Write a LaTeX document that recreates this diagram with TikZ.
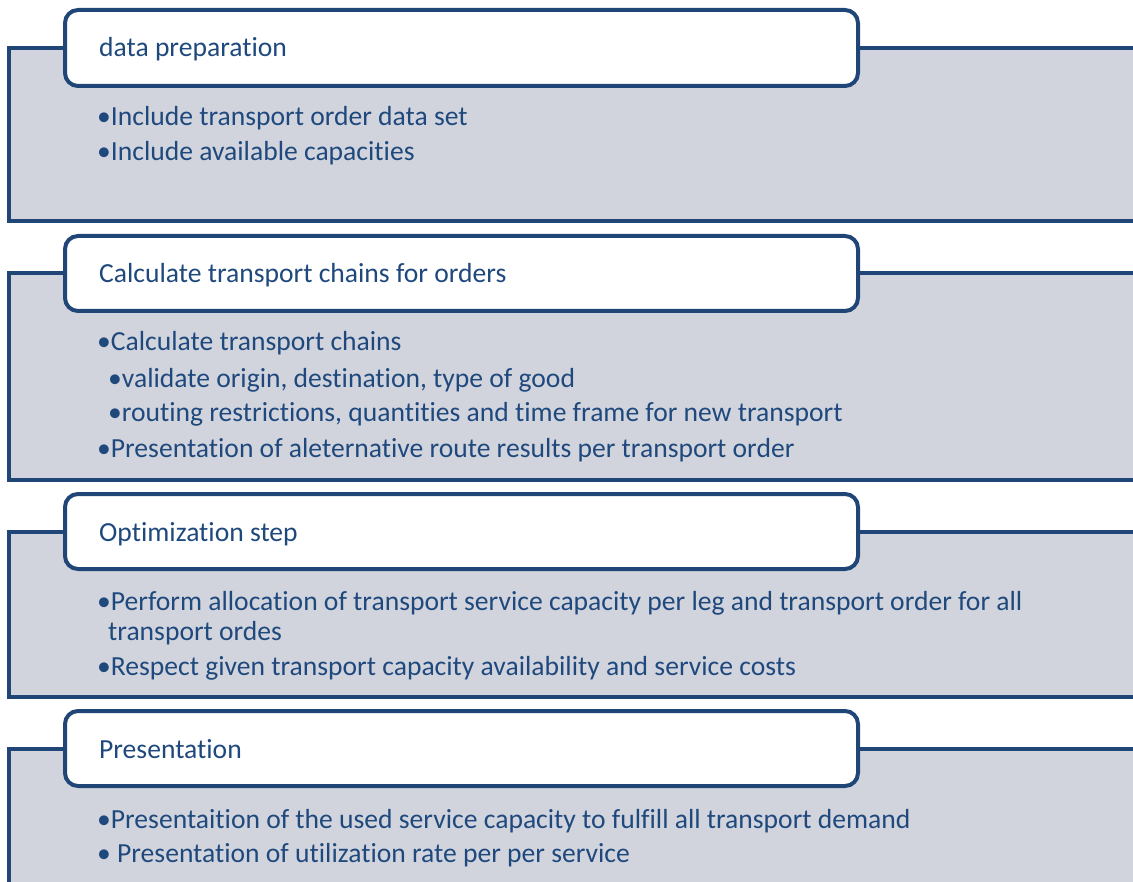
\documentclass[tikz,border=0pt]{standalone}
\usepackage{fontspec}
\setmainfont[Ligatures=NoCommon]{Carlito}
\definecolor{navy}{HTML}{1F4677}
\definecolor{txt}{HTML}{1F497D}
\definecolor{panel}{HTML}{D1D4DD}
\begin{document}
\begin{tikzpicture}[x=1pt,y=-1pt,
  panelbox/.style={draw=navy,fill=panel,line width=4pt},
  headbox/.style={draw=navy,fill=white,line width=4pt,rounded corners=13pt},
  headtxt/.style={anchor=base west,inner sep=0pt,text=txt,font=\fontsize{27.6}{32}\selectfont},
  bul/.style={anchor=base west,inner sep=0pt,text=txt,font=\fontsize{27.6}{32}\selectfont}]
\useasboundingbox (0,0) rectangle (1133,882);
\clip (0,0) rectangle (1133,882);
% box 1
\draw[panelbox] (9,48) rectangle (1145,221);
\draw[headbox] (65,10) rectangle (858,86);
\node[headtxt] (h1) at (99,57) {data preparation};
\node[bul] (b11) at (97,126) {•Include transport order data set};
\node[bul] (b12) at (97,161) {•Include available capacities};
% box 2
\draw[panelbox] (9,273) rectangle (1145,480);
\draw[headbox] (65,236) rectangle (858,311);
\node[headtxt] (h2) at (99,283) {Calculate transport chains for orders};
\node[bul] (b21) at (97,351) {•Calculate transport chains};
\node[bul] (b22) at (108,388) {•validate origin, destination, type of good};
\node[bul] (b23) at (108,422) {•routing restrictions, quantities and time frame for new transport};
\node[bul] (b24) at (97,457) {•Presentation of aleternative route results per transport order};
% box 3
\draw[panelbox] (9,532) rectangle (1145,697);
\draw[headbox] (65,494) rectangle (858,569);
\node[headtxt] (h3) at (99,541) {Optimization step};
\node[bul] (b31) at (97,610) {•Perform allocation of transport service capacity per leg and transport order for all};
\node[bul] (b32) at (108,640) {transport ordes};
\node[bul] (b33) at (97,675) {•Respect given transport capacity availability and service costs};
% box 4
\draw[panelbox] (9,749) rectangle (1145,900);
\draw[headbox] (65,711) rectangle (858,786);
\node[headtxt] (h4) at (99,758) {Presentation};
\node[bul] (b41) at (97,828) {•Presentaition of the used service capacity to fulfill all transport demand};
\node[bul] (b42) at (97,862) {• Presentation of utilization rate per per service};
\end{tikzpicture}
\end{document}
